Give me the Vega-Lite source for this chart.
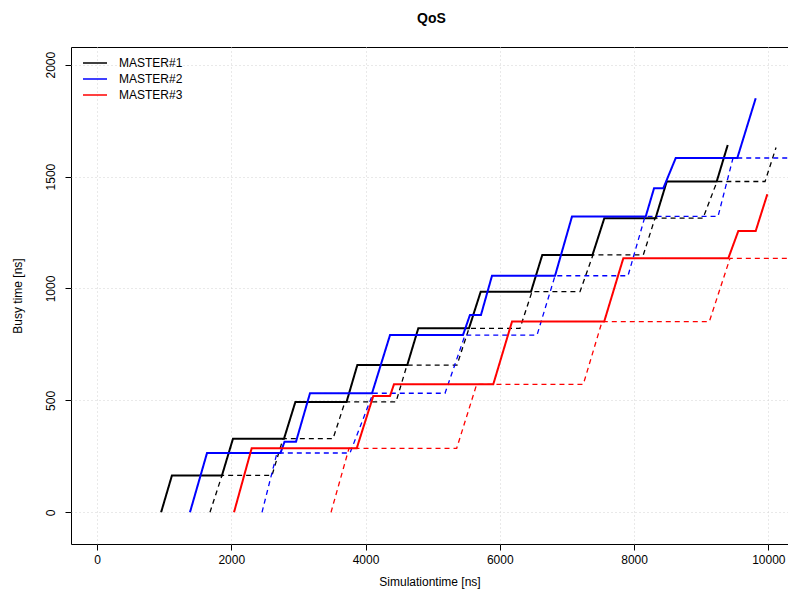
{
  "$schema": "https://vega.github.io/schema/vega-lite/v6.json",
  "width": 717,
  "height": 497,
  "autosize": "none",
  "padding": {"left": 71, "top": 47, "right": 0, "bottom": 52},
  "background": "white",
  "title": {"text": "QoS", "font": "Liberation Sans", "fontSize": 14, "fontWeight": "bold", "color": "black", "anchor": "middle", "offset": 21, "dx": 2},
  "config": {
    "view": {"stroke": "black", "strokeWidth": 1},
    "axis": {
      "labelFont": "Liberation Sans", "titleFont": "Liberation Sans",
      "labelFontSize": 12, "titleFontSize": 12, "titleFontWeight": "normal",
      "labelColor": "black", "titleColor": "black",
      "tickColor": "black", "tickSize": 6, "domain": false,
      "gridColor": "#d3d3d3", "gridDash": [1, 3], "gridWidth": 1
    }
  },
  "data": {"values": [
    {"m": "MASTER#1", "k": "solid", "x": 955, "y": 0},
    {"m": "MASTER#1", "k": "solid", "x": 1117, "y": 165},
    {"m": "MASTER#1", "k": "solid", "x": 1862, "y": 165},
    {"m": "MASTER#1", "k": "solid", "x": 2026, "y": 329},
    {"m": "MASTER#1", "k": "solid", "x": 2786, "y": 329},
    {"m": "MASTER#1", "k": "solid", "x": 2955, "y": 493},
    {"m": "MASTER#1", "k": "solid", "x": 3717, "y": 493},
    {"m": "MASTER#1", "k": "solid", "x": 3878, "y": 658},
    {"m": "MASTER#1", "k": "solid", "x": 4622, "y": 658},
    {"m": "MASTER#1", "k": "solid", "x": 4786, "y": 822},
    {"m": "MASTER#1", "k": "solid", "x": 5541, "y": 822},
    {"m": "MASTER#1", "k": "solid", "x": 5716, "y": 986},
    {"m": "MASTER#1", "k": "solid", "x": 6465, "y": 986},
    {"m": "MASTER#1", "k": "solid", "x": 6633, "y": 1150},
    {"m": "MASTER#1", "k": "solid", "x": 7381, "y": 1150},
    {"m": "MASTER#1", "k": "solid", "x": 7557, "y": 1314},
    {"m": "MASTER#1", "k": "solid", "x": 8320, "y": 1314},
    {"m": "MASTER#1", "k": "solid", "x": 8487, "y": 1478},
    {"m": "MASTER#1", "k": "solid", "x": 9231, "y": 1478},
    {"m": "MASTER#1", "k": "solid", "x": 9395, "y": 1641},
    {"m": "MASTER#1", "k": "dashed", "x": 1683, "y": 0},
    {"m": "MASTER#1", "k": "dashed", "x": 1862, "y": 165},
    {"m": "MASTER#1", "k": "dashed", "x": 2607, "y": 165},
    {"m": "MASTER#1", "k": "dashed", "x": 2771, "y": 329},
    {"m": "MASTER#1", "k": "dashed", "x": 3516, "y": 329},
    {"m": "MASTER#1", "k": "dashed", "x": 3694, "y": 493},
    {"m": "MASTER#1", "k": "dashed", "x": 4454, "y": 493},
    {"m": "MASTER#1", "k": "dashed", "x": 4618, "y": 658},
    {"m": "MASTER#1", "k": "dashed", "x": 5363, "y": 658},
    {"m": "MASTER#1", "k": "dashed", "x": 5541, "y": 822},
    {"m": "MASTER#1", "k": "dashed", "x": 6301, "y": 822},
    {"m": "MASTER#1", "k": "dashed", "x": 6480, "y": 986},
    {"m": "MASTER#1", "k": "dashed", "x": 7195, "y": 986},
    {"m": "MASTER#1", "k": "dashed", "x": 7388, "y": 1150},
    {"m": "MASTER#1", "k": "dashed", "x": 8138, "y": 1150},
    {"m": "MASTER#1", "k": "dashed", "x": 8312, "y": 1314},
    {"m": "MASTER#1", "k": "dashed", "x": 9027, "y": 1314},
    {"m": "MASTER#1", "k": "dashed", "x": 9236, "y": 1478},
    {"m": "MASTER#1", "k": "dashed", "x": 9951, "y": 1478},
    {"m": "MASTER#1", "k": "dashed", "x": 10115, "y": 1630},
    {"m": "MASTER#2", "k": "solid", "x": 1385, "y": 0},
    {"m": "MASTER#2", "k": "solid", "x": 1639, "y": 265},
    {"m": "MASTER#2", "k": "solid", "x": 2733, "y": 265},
    {"m": "MASTER#2", "k": "solid", "x": 2793, "y": 315},
    {"m": "MASTER#2", "k": "solid", "x": 2964, "y": 315},
    {"m": "MASTER#2", "k": "solid", "x": 3173, "y": 532},
    {"m": "MASTER#2", "k": "solid", "x": 4097, "y": 532},
    {"m": "MASTER#2", "k": "solid", "x": 4365, "y": 792},
    {"m": "MASTER#2", "k": "solid", "x": 5452, "y": 792},
    {"m": "MASTER#2", "k": "solid", "x": 5556, "y": 882},
    {"m": "MASTER#2", "k": "solid", "x": 5720, "y": 882},
    {"m": "MASTER#2", "k": "solid", "x": 5884, "y": 1057},
    {"m": "MASTER#2", "k": "solid", "x": 6823, "y": 1057},
    {"m": "MASTER#2", "k": "solid", "x": 7076, "y": 1322},
    {"m": "MASTER#2", "k": "solid", "x": 8174, "y": 1322},
    {"m": "MASTER#2", "k": "solid", "x": 8298, "y": 1448},
    {"m": "MASTER#2", "k": "solid", "x": 8436, "y": 1448},
    {"m": "MASTER#2", "k": "solid", "x": 8621, "y": 1583},
    {"m": "MASTER#2", "k": "solid", "x": 9538, "y": 1583},
    {"m": "MASTER#2", "k": "solid", "x": 9812, "y": 1850},
    {"m": "MASTER#2", "k": "dashed", "x": 2458, "y": 0},
    {"m": "MASTER#2", "k": "dashed", "x": 2681, "y": 265},
    {"m": "MASTER#2", "k": "dashed", "x": 3769, "y": 265},
    {"m": "MASTER#2", "k": "dashed", "x": 4112, "y": 532},
    {"m": "MASTER#2", "k": "dashed", "x": 5184, "y": 532},
    {"m": "MASTER#2", "k": "dashed", "x": 5482, "y": 792},
    {"m": "MASTER#2", "k": "dashed", "x": 6555, "y": 792},
    {"m": "MASTER#2", "k": "dashed", "x": 6823, "y": 1057},
    {"m": "MASTER#2", "k": "dashed", "x": 7910, "y": 1057},
    {"m": "MASTER#2", "k": "dashed", "x": 8163, "y": 1322},
    {"m": "MASTER#2", "k": "dashed", "x": 9251, "y": 1322},
    {"m": "MASTER#2", "k": "dashed", "x": 9474, "y": 1583},
    {"m": "MASTER#2", "k": "dashed", "x": 10400, "y": 1583},
    {"m": "MASTER#3", "k": "solid", "x": 2041, "y": 0},
    {"m": "MASTER#3", "k": "solid", "x": 2304, "y": 286},
    {"m": "MASTER#3", "k": "solid", "x": 3869, "y": 286},
    {"m": "MASTER#3", "k": "solid", "x": 4116, "y": 520},
    {"m": "MASTER#3", "k": "solid", "x": 4365, "y": 520},
    {"m": "MASTER#3", "k": "solid", "x": 4424, "y": 572},
    {"m": "MASTER#3", "k": "solid", "x": 5903, "y": 572},
    {"m": "MASTER#3", "k": "solid", "x": 6182, "y": 852},
    {"m": "MASTER#3", "k": "solid", "x": 7555, "y": 852},
    {"m": "MASTER#3", "k": "solid", "x": 7840, "y": 1135},
    {"m": "MASTER#3", "k": "solid", "x": 9404, "y": 1135},
    {"m": "MASTER#3", "k": "solid", "x": 9553, "y": 1257},
    {"m": "MASTER#3", "k": "solid", "x": 9812, "y": 1257},
    {"m": "MASTER#3", "k": "solid", "x": 9985, "y": 1421},
    {"m": "MASTER#3", "k": "dashed", "x": 3486, "y": 0},
    {"m": "MASTER#3", "k": "dashed", "x": 3754, "y": 286},
    {"m": "MASTER#3", "k": "dashed", "x": 5358, "y": 286},
    {"m": "MASTER#3", "k": "dashed", "x": 5656, "y": 572},
    {"m": "MASTER#3", "k": "dashed", "x": 7244, "y": 572},
    {"m": "MASTER#3", "k": "dashed", "x": 7523, "y": 852},
    {"m": "MASTER#3", "k": "dashed", "x": 9121, "y": 852},
    {"m": "MASTER#3", "k": "dashed", "x": 9429, "y": 1135},
    {"m": "MASTER#3", "k": "dashed", "x": 10400, "y": 1135}
  ]},
  "mark": {"type": "line", "clip": true},
  "encoding": {
    "x": {
      "field": "x", "type": "quantitative",
      "scale": {"domain": [-387, 10293], "nice": false, "zero": false},
      "axis": {"values": [0, 2000, 4000, 6000, 8000, 10000], "format": "d", "title": "Simulationtime [ns]", "labelPadding": 4, "titleY": 41, "titleBaseline": "alphabetic", "labelFlush": false}
    },
    "y": {
      "field": "y", "type": "quantitative",
      "scale": {"domain": [-141.6, 2079], "nice": false, "zero": false},
      "axis": {"values": [0, 500, 1000, 1500, 2000], "format": "d", "title": "Busy time [ns]", "labelAngle": -90, "labelAlign": "center", "labelBaseline": "bottom", "labelPadding": 8, "titleX": -50, "titleBaseline": "alphabetic", "labelFlush": false}
    },
    "color": {
      "field": "m", "type": "nominal",
      "scale": {"domain": ["MASTER#1", "MASTER#2", "MASTER#3"], "range": ["#000000", "#0000ff", "#ff0000"]},
      "legend": {
        "title": null, "orient": "none", "legendX": 15, "legendY": 7,
        "symbolType": "M-1.5,0H1.5", "symbolSize": 256, "symbolStrokeWidth": 1.5,
        "labelFont": "Liberation Sans", "labelFontSize": 12, "labelColor": "black",
        "labelOffset": 15, "rowPadding": 1, "padding": 0
      }
    },
    "strokeDash": {
      "field": "k", "type": "nominal",
      "scale": {"domain": ["solid", "dashed"], "range": [[1, 0], [5, 4]]},
      "legend": null
    },
    "strokeWidth": {
      "field": "k", "type": "ordinal",
      "scale": {"domain": ["solid", "dashed"], "range": [2, 1.3]},
      "legend": null
    }
  }
}
